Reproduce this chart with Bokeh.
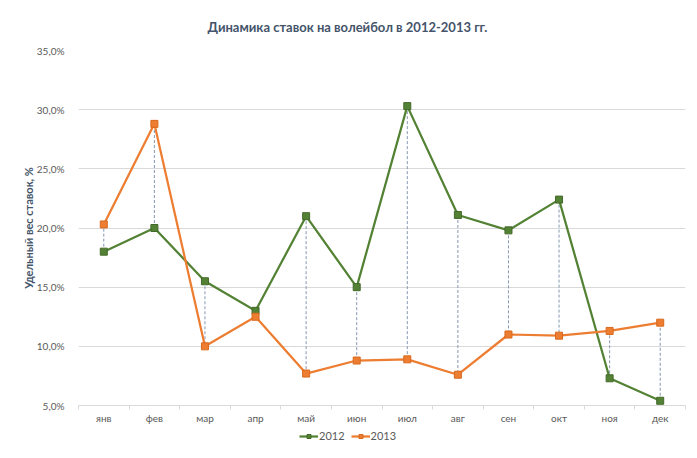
from bokeh.plotting import figure
from bokeh.layouts import column
from bokeh.models import (ColumnDataSource, FixedTicker, CustomJSTickFormatter,
                          Legend, LegendItem, Range1d)
from bokeh.embed import file_html
from bokeh.resources import INLINE

months = ["янв", "фев", "мар", "апр", "май", "июн", "июл", "авг", "сен", "окт", "ноя", "дек"]
y2012 = [18.0, 20.0, 15.5, 13.0, 21.0, 15.0, 30.3, 21.1, 19.8, 22.4, 7.3, 5.4]
y2013 = [20.3, 28.8, 10.0, 12.5, 7.7, 8.8, 8.9, 7.6, 11.0, 10.9, 11.3, 12.0]
y_ticks = [5, 10, 15, 20, 25, 30, 35]
series_names = ["2012", "2013"]

FONT = "Lato"
TXT = "#595959"
DARK = "#44546A"
GREEN = "#548235"
ORANGE = "#ED7D31"

xs = [i + 0.5 for i in range(len(months))]
src = ColumnDataSource(dict(x=xs, m=months, a=y2012, b=y2013))

W = 690
p = figure(width=W, height=428, output_backend="svg", toolbar_location=None,
           x_range=Range1d(0, len(months)), y_range=Range1d(y_ticks[0], y_ticks[-1]),
           min_border_left=78, min_border_right=5, min_border_top=49, min_border_bottom=23)
p.outline_line_color = None
p.background_fill_color = "white"
p.border_fill_color = "white"

p.title.text = "Динамика ставок на волейбол в 2012-2013 гг."
p.title.align = "left"
p.title.offset = 129
p.title.standoff = 32
p.title.text_font = FONT
p.title.text_font_size = "13px"
p.title.text_font_style = "bold"
p.title.text_color = DARK

# axes
p.xaxis.ticker = FixedTicker(ticks=xs, minor_ticks=list(range(len(months) + 1)))
p.xaxis.major_label_overrides = {x: m for x, m in zip(xs, months)}
p.xaxis.major_tick_line_color = None
p.xaxis.minor_tick_line_color = "#d9d9d9"
p.xaxis.minor_tick_in = 0
p.xaxis.minor_tick_out = 4
p.xaxis.axis_line_color = "#d9d9d9"
p.xaxis.major_label_text_font = FONT
p.xaxis.major_label_text_font_size = "10px"
p.xaxis.major_label_text_color = TXT
p.xaxis.major_label_standoff = 0

p.yaxis.ticker = FixedTicker(ticks=y_ticks)
p.yaxis.formatter = CustomJSTickFormatter(code="return tick.toFixed(1).replace('.', ',') + '%';")
p.yaxis.axis_line_color = None
p.yaxis.major_tick_line_color = None
p.yaxis.minor_tick_line_color = None
p.yaxis.major_label_text_font = FONT
p.yaxis.major_label_text_font_size = "10px"
p.yaxis.major_label_text_color = TXT
p.yaxis.major_label_standoff = 8
p.yaxis.axis_label = "Удельный вес ставок, %"
p.yaxis.axis_label_text_font = FONT
p.yaxis.axis_label_text_font_size = "11px"
p.yaxis.axis_label_text_font_style = "bold"
p.yaxis.axis_label_text_color = DARK
p.yaxis.axis_label_standoff = -1

p.xgrid.grid_line_color = None
p.ygrid.grid_line_color = "#d9d9d9"

# high-low drop lines
p.segment(x0="x", y0="a", x1="x", y1="b", source=src, line_color="#8497B0",
          line_width=1, line_dash="3 2")

styles = [dict(color=GREEN, edge="#43692a"), dict(color=ORANGE, edge="#d9691c")]
for col, st in zip(["a", "b"], styles):
    p.line("x", col, source=src, line_color=st["color"], line_width=2.25)
    p.scatter("x", col, source=src, marker="square", size=7, fill_color=st["color"],
              line_color=st["edge"])

# legend strip (its renderers hold the same series but lie outside this strip's ranges)
lg = figure(width=W, height=14, output_backend="svg", toolbar_location=None,
            x_range=Range1d(100, 101), y_range=Range1d(100, 101),
            min_border_left=0, min_border_right=0, min_border_top=0, min_border_bottom=0)
lg.axis.visible = False
lg.grid.visible = False
lg.outline_line_color = None
lg.border_fill_color = "white"
items = []
for name, col, st in zip(series_names, ["a", "b"], styles):
    r1 = lg.line("x", col, source=src, line_color=st["color"], line_width=2.25)
    r2 = lg.scatter("x", col, source=src, marker="square", size=7, fill_color=st["color"],
                    line_color=st["edge"])
    items.append(LegendItem(label=name, renderers=[r1, r2]))
legend = Legend(items=items, orientation="horizontal", location=(221, 0),
                label_text_font=FONT, label_text_font_size="11px", label_text_color=TXT,
                glyph_width=19, glyph_height=10, spacing=6, padding=0, margin=0,
                label_standoff=1, label_height=12,
                border_line_color=None, background_fill_alpha=0)
lg.add_layout(legend, "center")

open("out.html", "w").write(file_html(column(p, lg), INLINE))
